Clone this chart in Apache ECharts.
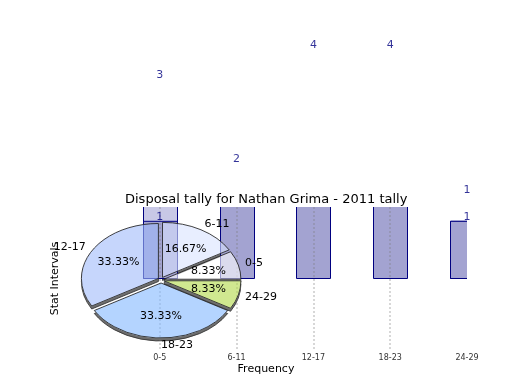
<!DOCTYPE html>
<html><head><meta charset="utf-8">
<script src="https://cdn.jsdelivr.net/npm/echarts@6/dist/echarts.min.js"></script>
<style>html,body{margin:0;padding:0;background:#fff}#c{width:520px;height:390px}</style>
</head><body><div id="c"></div>
<script>
const chartTitle = 'Disposal tally for Nathan Grima - 2011 tally';
const categories = ['0-5', '6-11', '12-17', '18-23', '24-29'];
const tally = [1, 2, 4, 4, 1];
const secondTally = [3, null, null, null, 1];
const xName = 'Frequency';
const yName = 'Stat Intervals';

const FONT = 'DejaVu Sans';
const axisCats = [''].concat(categories);
const toPoints = arr => ['-'].concat(arr.map(v => v == null ? '-' : v));
const toBars = arr => arr.map((v, i) => [categories[i], v]).filter(d => d[1] != null);

const pieTotal = tally.reduce((a, b) => a + b, 0);
const pieStart = [];
(function(){ let acc = 0; tally.forEach(v => { pieStart.push(acc); acc += v; }); })();
const PIE = { cx: 161, cy: 280, rx: 77, ry: 55, explode: 3, depth: 3 };
const pieColors = ['rgba(255,255,255,0.6)', 'rgba(217,227,255,0.6)', 'rgba(160,186,250,0.6)', 'rgba(130,183,255,0.6)', 'rgba(177,217,70,0.6)'];

function pieGeom(i, v) {
  const a0 = pieStart[i] / pieTotal * Math.PI * 2;
  const a1 = (pieStart[i] + v) / pieTotal * Math.PI * 2;
  const mid = (a0 + a1) / 2;
  return { a0, a1, cosm: Math.cos(mid), sinm: Math.sin(mid) };
}
function sliceEl(g, dy, style) {
  const ox = PIE.explode * g.cosm, oy = -PIE.explode * g.sinm;
  return {
    type: 'group', x: PIE.cx + ox, y: PIE.cy + oy + dy, scaleY: PIE.ry / PIE.rx,
    children: [{
      type: 'sector',
      shape: { cx: 0, cy: 0, r: PIE.rx, r0: 0, startAngle: -g.a0, endAngle: -g.a1, clockwise: false },
      style: Object.assign({ strokeNoScale: true }, style)
    }]
  };
}
function renderPieBase(params, api) {
  const g = pieGeom(params.dataIndex, api.value(0));
  return { type: 'group', children: [
    sliceEl(g, PIE.depth, { fill: '#6e6e6e', stroke: '#333', lineWidth: 1 }),
    sliceEl(g, 0, { fill: '#fff', stroke: '#fff', lineWidth: 0.5 })
  ] };
}
function renderPieTop(params, api) {
  const i = params.dataIndex, v = api.value(0);
  const g = pieGeom(i, v);
  const ox = PIE.explode * g.cosm, oy = -PIE.explode * g.sinm;
  const alignOut = g.cosm >= -0.01 ? 'left' : 'right';
  return { type: 'group', children: [
    sliceEl(g, 0, { fill: pieColors[i], stroke: '#222', lineWidth: 1 }),
    { type: 'text', x: PIE.cx + ox + 0.6 * PIE.rx * g.cosm, y: PIE.cy + oy - 0.6 * PIE.ry * g.sinm,
      style: { text: (v / pieTotal * 100).toFixed(2) + '%', fill: '#000', font: '11px "DejaVu Sans"',
        align: 'center', verticalAlign: 'middle', textAlign: 'center', textVerticalAlign: 'middle' } },
    { type: 'text', x: PIE.cx + (PIE.rx + 10) * g.cosm, y: PIE.cy - (PIE.ry + 10) * g.sinm,
      style: { text: categories[i], fill: '#000', font: '11px "DejaVu Sans"',
        align: alignOut, verticalAlign: 'middle', textAlign: alignOut, textVerticalAlign: 'middle' } }
  ] };
}
function barRenderer(fill) {
  return function (params, api) {
    const top = api.coord([api.value(0), api.value(1)]);
    const base = api.coord([api.value(0), 0]);
    const w = 34;
    return { type: 'rect',
      shape: { x: Math.round(top[0] - w / 2) + 0.5, y: top[1], width: w, height: base[1] - top[1] },
      style: { fill: fill, stroke: '#000080', lineWidth: 1 } };
  };
}

const chart = echarts.init(document.getElementById('c'), null, { renderer: 'canvas' });
chart.setOption({
  animation: false,
  backgroundColor: '#fff',
  textStyle: { fontFamily: FONT },
  title: {
    text: chartTitle, left: 125, top: 193, padding: 0,
    textStyle: { fontSize: 13, fontWeight: 'normal', color: '#000', fontFamily: FONT }
  },
  grid: { left: 83, right: 53, top: 207, bottom: 40, containLabel: false, outerBoundsMode: 'none' },
  xAxis: {
    type: 'category', data: axisCats, boundaryGap: false, z: 3,
    name: xName, nameLocation: 'middle', nameGap: 14,
    nameTextStyle: { fontSize: 11, color: '#000', fontFamily: FONT, padding: [0, 18, 0, 0] },
    axisLine: { show: false }, axisTick: { show: false },
    axisLabel: { fontSize: 8, color: '#333', margin: 4, interval: 0, showMaxLabel: true, showMinLabel: true, fontFamily: FONT },
    splitLine: { show: true, interval: function (idx) { return idx > 0 && idx < axisCats.length - 1; },
      lineStyle: { type: [2, 2], color: 'rgba(120,120,120,0.4)', width: 1.5 } }
  },
  yAxis: {
    type: 'value', min: -1.25, max: 1.25,
    name: yName, nameLocation: 'middle', nameGap: 22,
    nameTextStyle: { fontSize: 11, color: '#000', fontFamily: FONT },
    axisLine: { show: false }, axisTick: { show: false }, axisLabel: { show: false }, splitLine: { show: false }
  },
  series: [
    { type: 'custom', coordinateSystem: 'none', renderItem: renderPieBase, data: tally, z: 1, silent: true },
    { type: 'custom', renderItem: barRenderer('#c8c8e6'), data: toBars(secondTally), encode: { x: 0, y: 1 }, clip: true, z: 2, silent: true },
    { type: 'custom', renderItem: barRenderer('#a3a3d1'), data: toBars(tally), encode: { x: 0, y: 1 }, clip: true, z: 2, silent: true },
    { type: 'custom', coordinateSystem: 'none', renderItem: renderPieTop, data: tally, z: 4, silent: true },
    { type: 'scatter', data: toPoints(tally), symbolSize: 0, clip: false, z: 6, silent: true,
      label: { show: true, position: 'top', distance: -1, color: '#000080', fontSize: 11, fontFamily: FONT,
        formatter: p => String(p.value) } },
    { type: 'scatter', data: toPoints(secondTally), symbolSize: 0, clip: false, z: 6, silent: true,
      label: { show: true, position: 'top', distance: 26, color: '#000080', fontSize: 11, fontFamily: FONT,
        formatter: p => String(p.value) } }
  ]
});
</script>
</body></html>
